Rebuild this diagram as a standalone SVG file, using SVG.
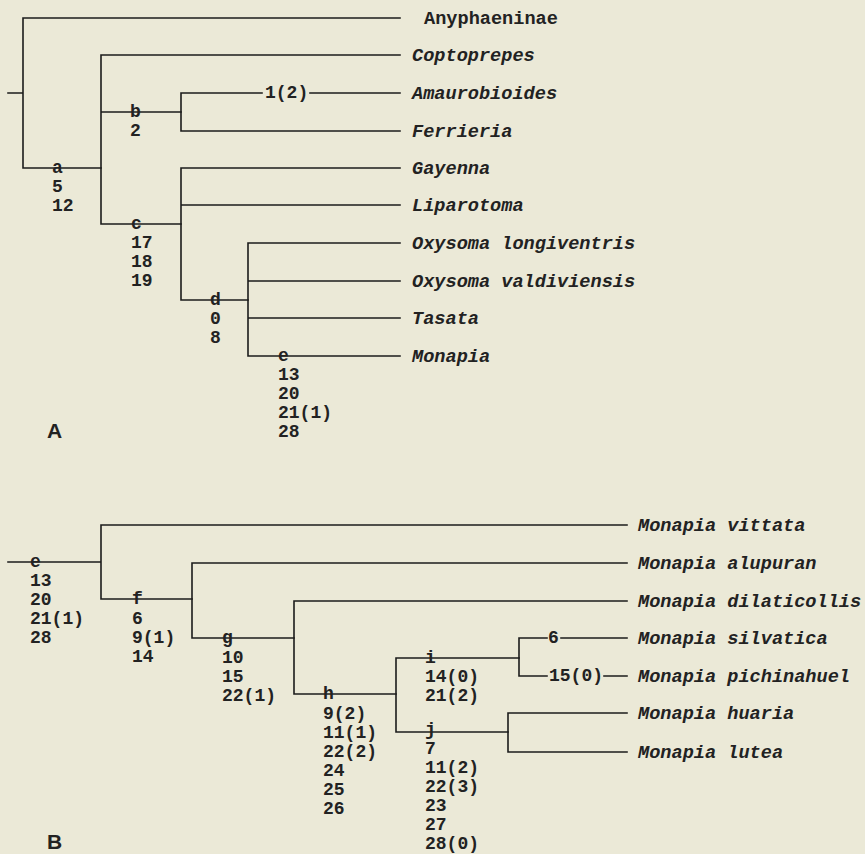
<svg xmlns="http://www.w3.org/2000/svg" width="865" height="854" viewBox="0 0 865 854">
<style>
.bg{fill:#ebe9d7}
.ln{stroke:#1c1c1c;stroke-width:1.6;fill:none;stroke-linecap:square}
text{font-family:"Liberation Mono","Courier New",monospace;font-size:18px;font-weight:bold;fill:#222}
.tx{font-style:italic;font-size:18.6px}
.up{font-size:18.6px}
.pl{font-family:"Liberation Sans",Arial,sans-serif;font-size:21px;font-weight:bold}
</style>
<rect class="bg" x="0" y="0" width="865" height="854"/>
<g id="connectors" class="ln">
<!-- Panel A -->
<path d="M8,93H23M23,18V168M23,18H400M23,168H101"/>
<path d="M101,55V224M101,55H400M101,112H181M101,224H181"/>
<path d="M181,93V131M181,93H262M310,93H400M181,131H400"/>
<path d="M181,168V300M181,168H400M181,205H400M181,300H248"/>
<path d="M248,243V356M248,243H400M248,281H400M248,318H400M248,356H400"/>
<!-- Panel B -->
<path d="M8,562H101M101,525V599M101,525H627M101,599H192"/>
<path d="M192,563V638M192,563H627M192,638H294"/>
<path d="M294,601V694M294,601H627M294,694H396"/>
<path d="M396,658V732M396,658H519M396,732H508"/>
<path d="M519,638V676M519,638H547M561,638H627M519,676H547M604,676H627"/>
<path d="M508,713V752M508,713H627M508,752H627"/>
</g>
<g id="panel-A-label"><text class="pl" x="47" y="438">A</text></g>
<g id="panel-B-label"><text class="pl" x="47" y="849">B</text></g>
<!-- Panel A taxa -->
<g id="t-anyphaeninae"><text class="up" x="424" y="24">Anyphaeninae</text></g>
<g id="t-coptoprepes"><text class="tx" x="412" y="61">Coptoprepes</text></g>
<g id="t-amaurobioides"><text class="tx" x="412" y="99">Amaurobioides</text><text x="265" y="98">1(2)</text></g>
<g id="t-ferrieria"><text class="tx" x="412" y="137">Ferrieria</text></g>
<g id="t-gayenna"><text class="tx" x="412" y="174">Gayenna</text></g>
<g id="t-liparotoma"><text class="tx" x="412" y="211">Liparotoma</text></g>
<g id="t-oxysoma-longiventris"><text class="tx" x="412" y="249">Oxysoma longiventris</text></g>
<g id="t-oxysoma-valdiviensis"><text class="tx" x="412" y="287">Oxysoma valdiviensis</text></g>
<g id="t-tasata"><text class="tx" x="412" y="324">Tasata</text></g>
<g id="t-monapia"><text class="tx" x="412" y="362">Monapia</text></g>
<!-- Panel A nodes -->
<g id="n-a"><text x="52" y="173">a</text><text x="52" y="192">5</text><text x="52" y="211">12</text></g>
<g id="n-b"><text x="130" y="117">b</text><text x="130" y="136">2</text></g>
<g id="n-c"><text x="131" y="229">c</text><text x="131" y="248">17</text><text x="131" y="267">18</text><text x="131" y="286">19</text></g>
<g id="n-d"><text x="210" y="305">d</text><text x="210" y="324">0</text><text x="210" y="343">8</text></g>
<g id="n-e-A"><text x="278" y="361">e</text><text x="278" y="380">13</text><text x="278" y="399">20</text><text x="278" y="418">21(1)</text><text x="278" y="437">28</text></g>
<!-- Panel B taxa -->
<g id="t-vittata"><text class="tx" x="638" y="531">Monapia vittata</text></g>
<g id="t-alupuran"><text class="tx" x="638" y="569">Monapia alupuran</text></g>
<g id="t-dilaticollis"><text class="tx" x="638" y="607">Monapia dilaticollis</text></g>
<g id="t-silvatica"><text class="tx" x="638" y="644">Monapia silvatica</text><text x="548" y="643">6</text></g>
<g id="t-pichinahuel"><text class="tx" x="638" y="682">Monapia pichinahuel</text><text x="549" y="681">15(0)</text></g>
<g id="t-huaria"><text class="tx" x="638" y="719">Monapia huaria</text></g>
<g id="t-lutea"><text class="tx" x="638" y="758">Monapia lutea</text></g>
<!-- Panel B nodes -->
<g id="n-e-B"><text x="30" y="567">e</text><text x="30" y="586">13</text><text x="30" y="605">20</text><text x="30" y="624">21(1)</text><text x="30" y="643">28</text></g>
<g id="n-f"><text x="132" y="604">f</text><text x="132" y="624">6</text><text x="132" y="643">9(1)</text><text x="132" y="662">14</text></g>
<g id="n-g"><text x="222" y="643">g</text><text x="222" y="663">10</text><text x="222" y="682">15</text><text x="222" y="701">22(1)</text></g>
<g id="n-h"><text x="323" y="699">h</text><text x="323" y="719">9(2)</text><text x="323" y="738">11(1)</text><text x="323" y="757">22(2)</text><text x="323" y="776">24</text><text x="323" y="795">25</text><text x="323" y="814">26</text></g>
<g id="n-i"><text x="425" y="663">i</text><text x="425" y="682">14(0)</text><text x="425" y="701">21(2)</text></g>
<g id="n-j"><text x="425" y="735">j</text><text x="425" y="754">7</text><text x="425" y="773">11(2)</text><text x="425" y="792">22(3)</text><text x="425" y="811">23</text><text x="425" y="830">27</text><text x="425" y="849">28(0)</text></g>
</svg>
